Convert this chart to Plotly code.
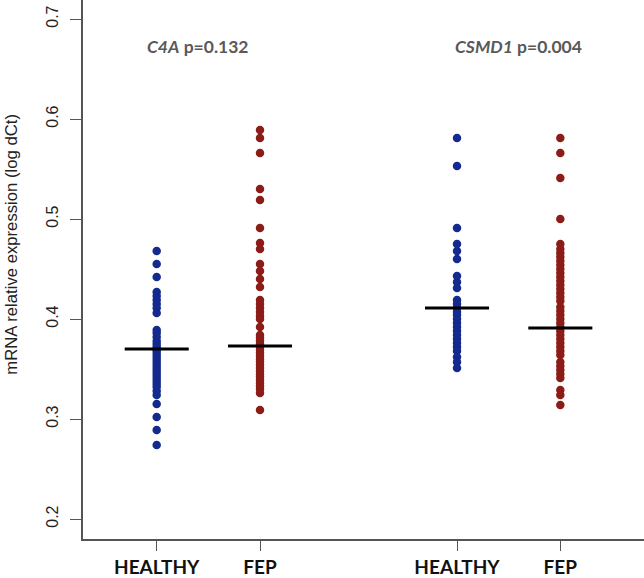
import plotly.graph_objects as go

# ---- data ----
group_labels = ["HEALTHY", "FEP", "HEALTHY", "FEP"]
genes = ["C4A", "CSMD1"]
p_values = ["0.132", "0.004"]

c4a_healthy = [0.468, 0.455, 0.442, 0.427, 0.423, 0.419, 0.415, 0.411, 0.406,
               0.389, 0.386, 0.382, 0.378, 0.375, 0.372, 0.370, 0.368, 0.365,
               0.362, 0.359, 0.356, 0.353, 0.350, 0.347, 0.344, 0.341, 0.338,
               0.335, 0.332, 0.328, 0.324, 0.315, 0.302, 0.289, 0.274]
c4a_fep = [0.589, 0.581, 0.566, 0.530, 0.519, 0.491, 0.476, 0.470, 0.455,
           0.448, 0.440, 0.432, 0.419, 0.415, 0.411, 0.407, 0.403, 0.400,
           0.392, 0.384, 0.381, 0.378, 0.375, 0.372, 0.369, 0.366, 0.363,
           0.360, 0.357, 0.354, 0.351, 0.348, 0.345, 0.342, 0.339, 0.336,
           0.333, 0.330, 0.326, 0.309]
csmd1_healthy = [0.581, 0.553, 0.491, 0.475, 0.468, 0.460, 0.443, 0.437,
                 0.431, 0.419, 0.415, 0.411, 0.407, 0.404, 0.400, 0.396,
                 0.392, 0.388, 0.384, 0.380, 0.376, 0.372, 0.368, 0.362,
                 0.357, 0.351]
csmd1_fep = [0.581, 0.566, 0.541, 0.500, 0.475, 0.470, 0.466, 0.462, 0.458,
             0.454, 0.450, 0.446, 0.442, 0.438, 0.434, 0.430, 0.426, 0.422,
             0.418, 0.412, 0.408, 0.404, 0.400, 0.396, 0.392, 0.388, 0.384,
             0.380, 0.376, 0.372, 0.368, 0.364, 0.357, 0.353, 0.349, 0.345,
             0.341, 0.329, 0.324, 0.314]
group_values = [c4a_healthy, c4a_fep, csmd1_healthy, csmd1_fep]
group_centers = [0.370, 0.373, 0.411, 0.391]   # horizontal bar values

y_ticks = [0.2, 0.3, 0.4, 0.5, 0.6, 0.7]

# ---- layout / style ----
positions = [1, 2, 3.907, 4.907]
colors = ["#142a8e", "#8c1c17", "#142a8e", "#8c1c17"]
half_w = 0.31

fig = go.Figure()
for pos, vals, col in zip(positions, group_values, colors):
    fig.add_trace(go.Scatter(
        x=[pos] * len(vals), y=vals, mode="markers",
        marker=dict(size=8.5, color=col, line=dict(width=0)),
        showlegend=False, hoverinfo="y"))
for pos, m in zip(positions, group_centers):
    fig.add_trace(go.Scatter(
        x=[pos - half_w, pos + half_w], y=[m, m], mode="lines",
        line=dict(color="black", width=3), showlegend=False, hoverinfo="skip"))

title_x = [1.4, 4.5]
for gx, g, p in zip(title_x, genes, p_values):
    fig.add_annotation(
        x=gx, xref="x", y=1 - 47 / 542, yref="paper",
        xanchor="center", yanchor="middle",
        text=f"<b><i>{g}</i> p={p}</b>", showarrow=False,
        font=dict(family="Lato", size=17.5, color="#595959"))

fig.add_annotation(
    x=(12 - 83) / 561, xref="paper", y=1 - 246 / 542, yref="paper",
    xanchor="center", yanchor="middle",
    text="mRNA relative expression (log dCt)", textangle=-90,
    showarrow=False, font=dict(family="Liberation Sans", size=16.7, color="#222"))

fig.update_layout(
    width=644, height=578,
    margin=dict(l=83, r=0, t=0, b=36),
    paper_bgcolor="white", plot_bgcolor="white",
    xaxis=dict(range=[0.2866, 5.717], tickmode="array", tickvals=positions,
               ticktext=[f"<b>{t}</b>" for t in group_labels],
               showgrid=False, zeroline=False, showline=True,
               linecolor="#555", linewidth=1.5, ticks="outside", ticklen=10,
               tickcolor="#555", tickwidth=1.2,
               tickfont=dict(family="Lato", size=19, color="#111")),
    yaxis=dict(range=[0.18, 0.719], tickmode="array", tickvals=y_ticks,
               ticktext=[f"{v:.1f}" for v in y_ticks], tickangle=-90,
               showgrid=False, zeroline=False, showline=True,
               linecolor="#555", linewidth=1.5, ticks="outside", ticklen=11,
               tickcolor="#555", tickwidth=1.2, ticklabelstandoff=6,
               tickfont=dict(family="Liberation Sans", size=16, color="#222")),
)

fig.write_html(
    "out.html",
    config={"displayModeBar": False},
    post_script="document.body.style.margin='0';document.body.style.overflow='hidden';",
)
